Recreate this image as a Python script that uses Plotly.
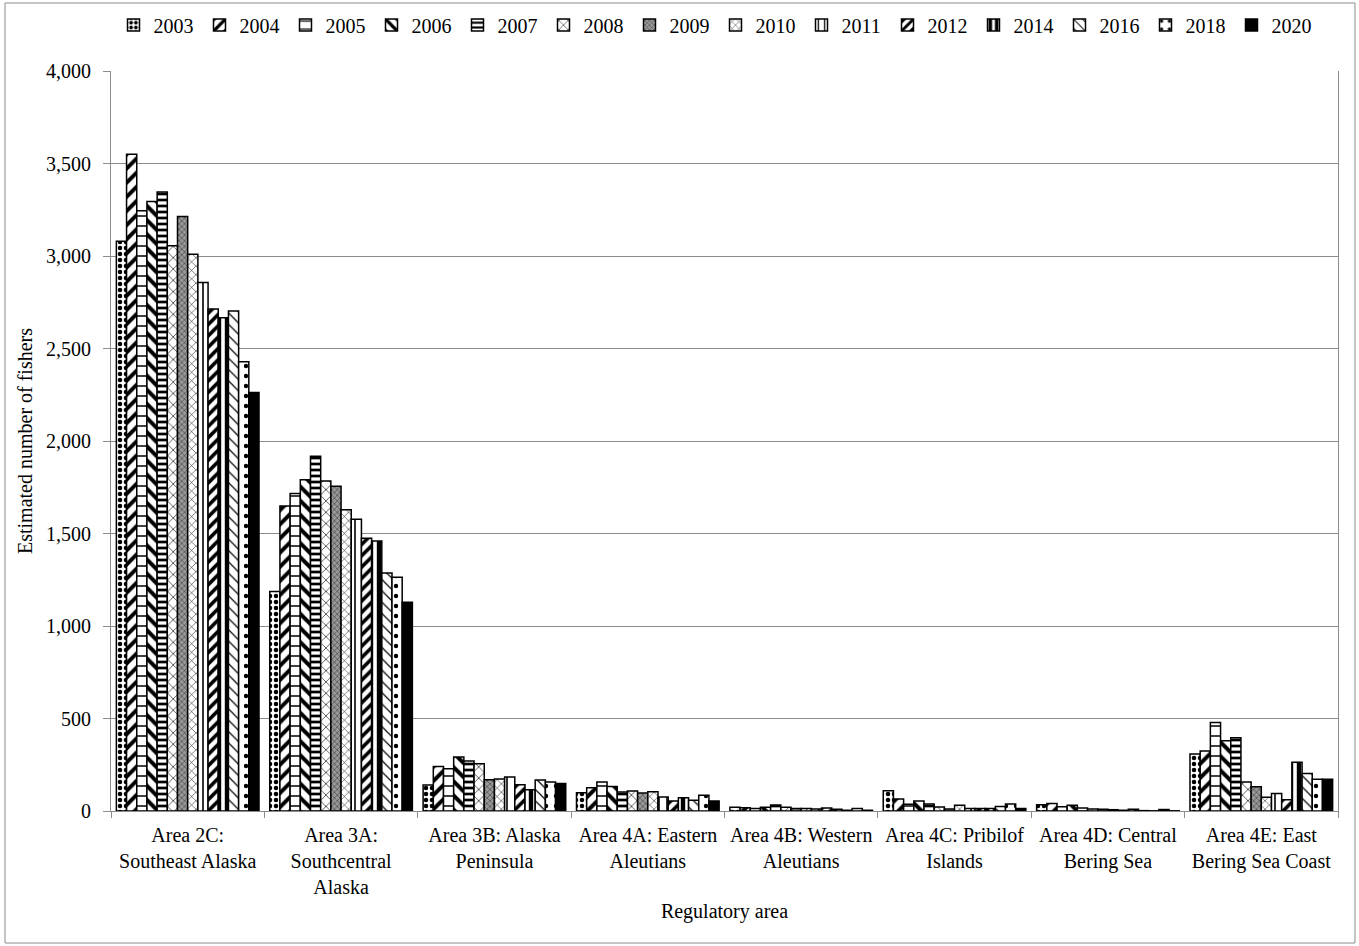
import plotly.graph_objects as go

areas = ["Area 2C:<br>Southeast Alaska", "Area 3A:<br>Southcentral<br>Alaska",
         "Area 3B: Alaska<br>Peninsula", "Area 4A: Eastern<br>Aleutians",
         "Area 4B: Western<br>Aleutians", "Area 4C: Pribilof<br>Islands",
         "Area 4D: Central<br>Bering Sea", "Area 4E: East<br>Bering Sea Coast"]

years = ["2003", "2004", "2005", "2006", "2007", "2008", "2009",
         "2010", "2011", "2012", "2014", "2016", "2018", "2020"]

v2003 = [3080, 1187, 140, 99, 20, 110, 34, 308]
v2004 = [3550, 1649, 241, 126, 18, 65, 41, 324]
v2005 = [3245, 1716, 229, 157, 14, 36, 23, 479]
v2006 = [3295, 1791, 292, 133, 20, 54, 31, 380]
v2007 = [3346, 1917, 270, 103, 32, 38, 16, 396]
v2008 = [3056, 1784, 256, 108, 20, 22, 11, 157]
v2009 = [3213, 1755, 169, 97, 14, 11, 9, 131]
v2010 = [3009, 1629, 173, 104, 14, 31, 7, 74]
v2011 = [2857, 1577, 184, 76, 11, 13, 4, 94]
v2012 = [2713, 1475, 142, 54, 16, 14, 9, 61]
v2014 = [2666, 1460, 115, 72, 9, 14, 2, 263]
v2016 = [2703, 1286, 167, 58, 4, 25, 1, 203]
v2018 = [2428, 1264, 157, 85, 14, 38, 8, 171]
v2020 = [2262, 1128, 148, 54, 4, 14, 1, 171]

values = [v2003, v2004, v2005, v2006, v2007, v2008, v2009,
          v2010, v2011, v2012, v2014, v2016, v2018, v2020]

# (shape, fg, bg, size, solidity)
styles = [
    (".", "black", "white", 6, 0.45),
    ("/", "black", "white", 10, 0.4),
    ("-", "black", "white", 10, 0.15),
    ("\\", "black", "white", 10, 0.4),
    ("-", "black", "white", 6, 0.45),
    ("x", "black", "white", 8, 0.15),
    ("x", "#444", "#999", 4, 0.3),
    ("x", "black", "white", 6, 0.15),
    ("|", "black", "white", 8, 0.2),
    ("/", "black", "white", 8, 0.45),
    ("|", "black", "white", 8, 0.55),
    ("\\", "black", "white", 8, 0.15),
    (".", "black", "white", 10, 0.15),
    ("", "black", "black", 8, 0.3),
]

fig = go.Figure()
for yr, vals, (sh, fg, bg, sz, so) in zip(years, values, styles):
    fig.add_trace(go.Bar(
        name=yr, x=areas, y=vals,
        marker=dict(
            color=bg if sh else "black",
            line=dict(color="black", width=1.5),
            pattern=dict(shape=sh, fgcolor=fg, bgcolor=bg, size=sz, solidity=so,
                         fillmode="replace") if sh else None,
        ),
    ))

font_family = "Liberation Serif, Times New Roman, serif"
fs = 20

W, H = 1359, 946
L, R, T, B = 111, 21, 71, 135
pw = W - L - R
ph = H - T - B

fig.update_layout(
    width=W, height=H,
    barmode="group", bargap=0.07, bargroupgap=0,
    paper_bgcolor="white", plot_bgcolor="white",
    font=dict(family=font_family, size=fs, color="black"),
    margin=dict(l=L, r=R, t=T, b=B, autoexpand=False),
    legend=dict(orientation="h", x=0.5 - 9 / pw, xanchor="center", y=1.062, yanchor="middle",
                entrywidth=41, entrywidthmode="pixels",
                bgcolor="rgba(0,0,0,0)",
                font=dict(family=font_family, size=fs, color="black"),
                itemwidth=30, traceorder="normal"),
    showlegend=True,
)

fig.update_yaxes(
    range=[0, 4000], dtick=500, tickformat=",",
    showgrid=True, gridcolor="#8c8c8c", gridwidth=1,
    showline=True, linecolor="#8c8c8c", linewidth=1, mirror=True,
    ticks="outside", ticklen=7, tickcolor="#8c8c8c", ticklabelstandoff=8,
    tickfont=dict(family=font_family, size=fs, color="black"),
    title=dict(text="Estimated number of fishers", font=dict(family=font_family, size=fs), standoff=8),
    zeroline=False,
)
fig.update_xaxes(
    showline=True, linecolor="#8c8c8c", linewidth=1,
    ticks="outside", ticklen=6, tickcolor="#8c8c8c", tickson="boundaries",
    ticklabelstandoff=6,
    tickfont=dict(family=font_family, size=fs, color="black"),
    title=dict(text="Regulatory area", font=dict(family=font_family, size=fs), standoff=6),
)

fig.add_shape(type="rect", xref="paper", yref="paper",
              x0=(5 - L) / pw, x1=(1355 - L) / pw,
              y0=(H - B - 943) / ph, y1=(H - B - 3) / ph,
              line=dict(color="#8c8c8c", width=1), fillcolor="rgba(0,0,0,0)", layer="below")

fig.write_html("out.html", config={"displayModeBar": False},
               post_script="document.body.style.margin='0px';")
